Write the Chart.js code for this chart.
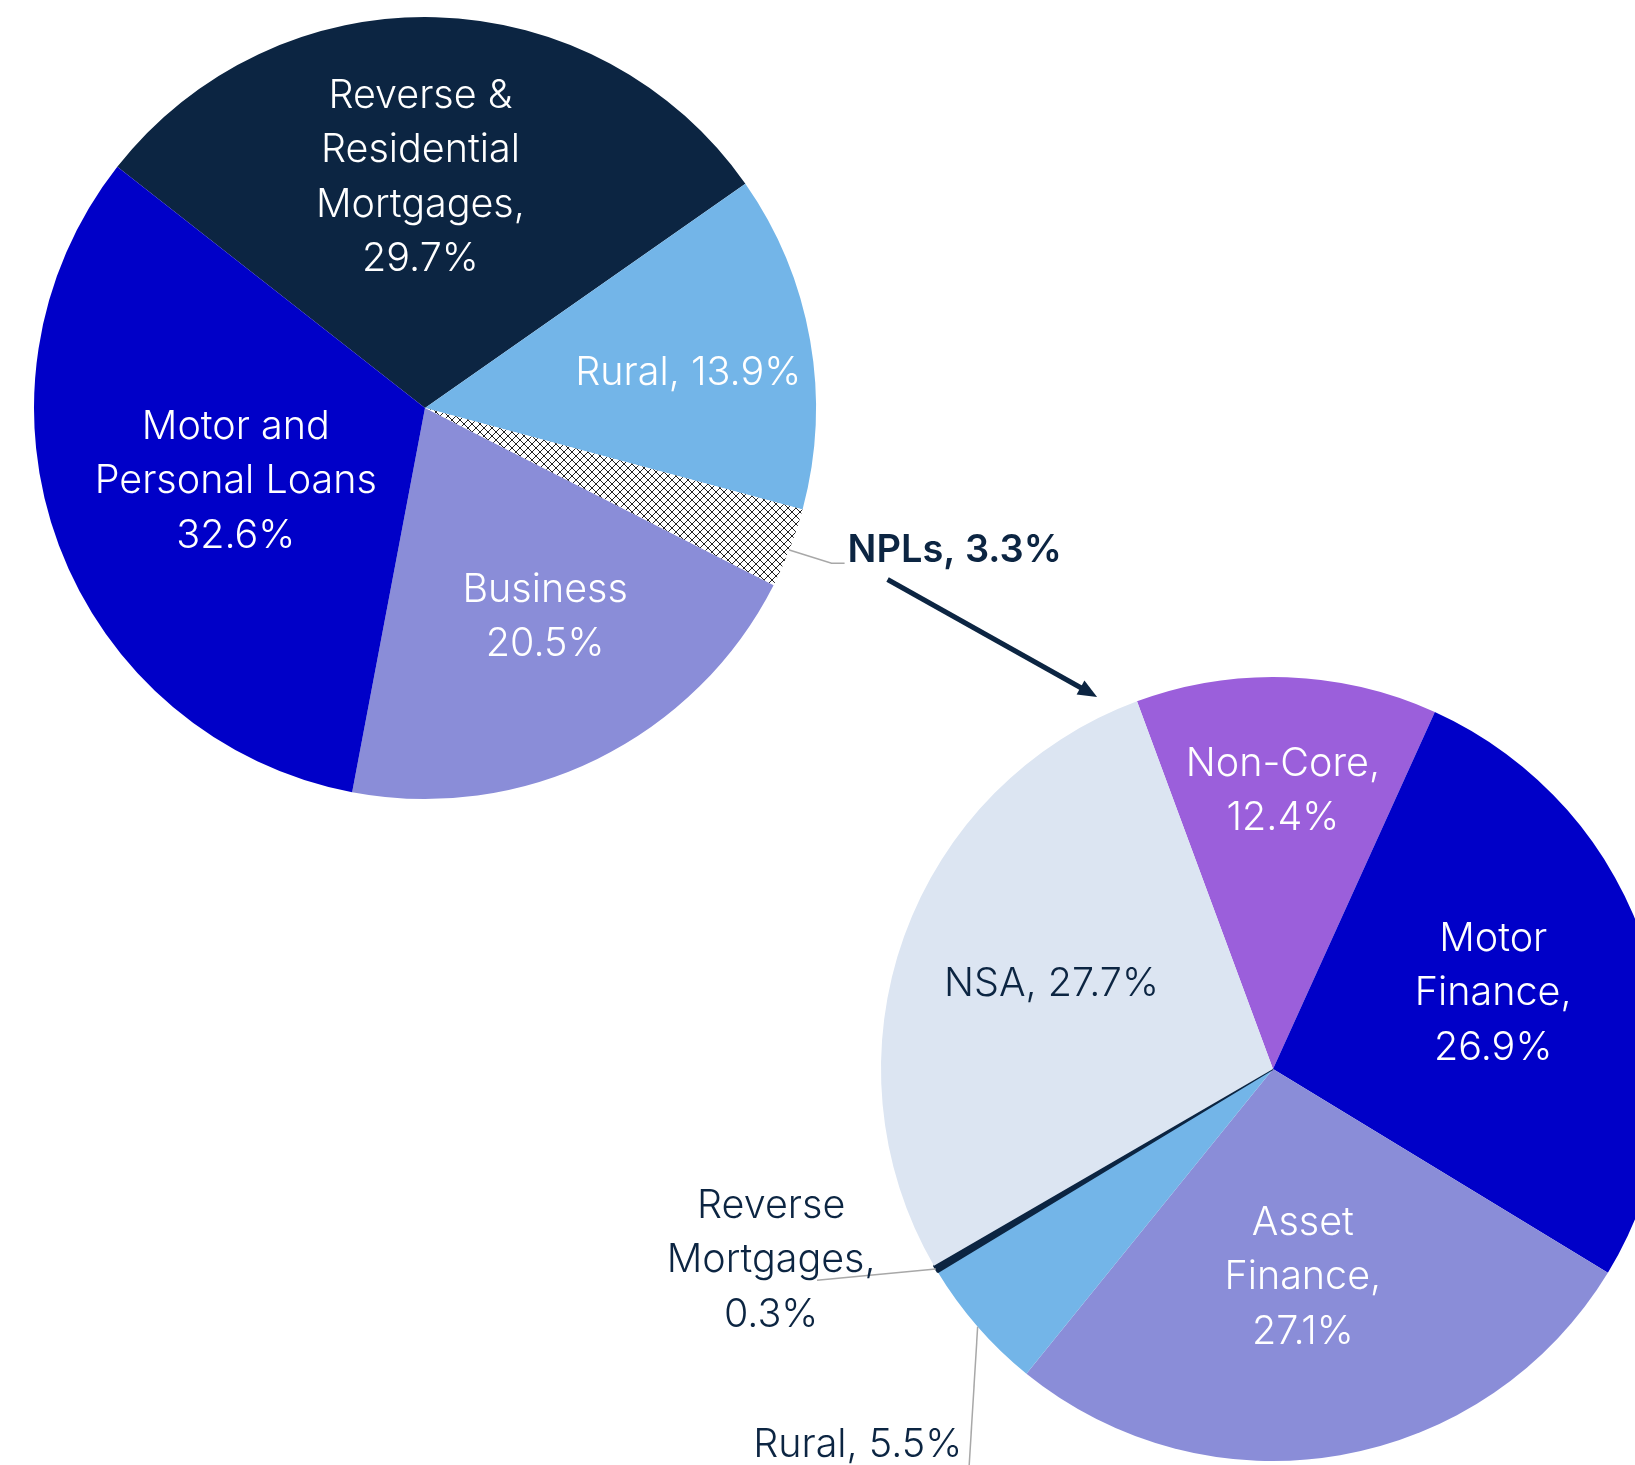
<!DOCTYPE html>
<html>
<head>
<meta charset="utf-8">
<script src="https://cdn.jsdelivr.net/npm/chart.js@4.4.1/dist/chart.umd.min.js"></script>
<style>
  html, body { margin: 0; padding: 0; background: #fff; overflow: hidden; width: 1635px; height: 1465px; }
  canvas { position: absolute; left: 0; top: 0; }
</style>
</head>
<body>
<canvas id="topPie" width="1635" height="1465"></canvas>
<canvas id="bottomPie" width="1700" height="1465"></canvas>
<script>
// data
const topCategories = ["Reverse & Residential Mortgages", "Rural", "NPLs", "Business", "Motor and Personal Loans"];
const topValues = [29.7, 13.9, 3.3, 20.5, 32.6];
const topLabelLines = [
  ["Reverse &", "Residential", "Mortgages,", "{v}%"],
  ["Rural, {v}%"],
  ["NPLs, {v}%"],
  ["Business", "{v}%"],
  ["Motor and", "Personal Loans", "{v}%"],
];

const bottomCategories = ["Non-Core", "Motor Finance", "Asset Finance", "Rural", "Reverse Mortgages", "NSA"];
const bottomValues = [12.4, 26.9, 27.1, 5.5, 0.3, 27.7];
const bottomLabelLines = [
  ["Non-Core,", "{v}%"],
  ["Motor", "Finance,", "{v}%"],
  ["Asset", "Finance,", "{v}%"],
  ["Rural, {v}%"],
  ["Reverse", "Mortgages,", "{v}%"],
  ["NSA, {v}%"],
];

const NAVY = "#0c2542";
const BLUE = "#0000c8";
const SKY = "#73b5e8";
const LAVENDER = "#8a8dd8";
const PALE = "#dce5f2";
const PURPLE = "#9b5fdb";
const LEADER = "#a8a8a8";
const FONT = "Inter";
const LINE_H = 54.5;

Chart.defaults.font.family = FONT;

// cross hatch for the NPL slice
function hatch() {
  const n = 8;
  const c = document.createElement("canvas");
  c.width = n; c.height = n;
  const g = c.getContext("2d");
  g.fillStyle = "#fff";
  g.fillRect(0, 0, n, n);
  g.strokeStyle = "#222";
  g.lineWidth = 1;
  g.beginPath();
  g.moveTo(-1, -1); g.lineTo(n + 1, n + 1);
  g.moveTo(-1, n + 1); g.lineTo(n + 1, -1);
  g.stroke();
  return g.createPattern(c, "repeat");
}

// label placement: r = fraction of radius, da = degrees off the slice middle
const topPlace = [
  { r: 0.589, da: -2.7, color: "#fff" },
  { r: 0.679, da: 2.5, color: "#fff" },
  { r: 1.141, da: -2.3, color: NAVY, align: "left", bold: true, leader: [[1.0, 0.3], [1.113, -0.1]], tail: true },
  { r: 0.617, da: -3.7, color: "#fff" },
  { r: 0.519, da: -0.6, color: "#fff" },
];
const bottomPlace = [
  { r: 0.709, da: 0, color: "#fff" },
  { r: 0.594, da: -1.8, color: "#fff" },
  { r: 0.537, da: 1.7, color: "#fff" },
  { r: 1.244, da: -9.3, color: NAVY, align: "right", leader: [[1.0, 0], [1.28, -11.6]] },
  { r: 1.37, da: 9.8, color: NAVY, leader: [[1.0, 0], [1.282, 5.8]] },
  { r: 0.605, da: 1.1, color: NAVY },
];

function polar(arc, frac, ang) {
  return { x: arc.x + arc.outerRadius * frac * Math.cos(ang), y: arc.y + arc.outerRadius * frac * Math.sin(ang) };
}
const rad = d => d * Math.PI / 180;

const pieLabels = {
  id: "pieLabels",
  afterDatasetsDraw(chart, args, opts) {
    const ctx = chart.ctx;
    const arcs = chart.getDatasetMeta(0).data;
    const values = chart.data.datasets[0].data;
    ctx.save();
    ctx.textBaseline = "middle";
    opts.place.forEach((p, i) => {
      const a = arcs[i];
      const mid = (a.startAngle + a.endAngle) / 2;
      const pos = polar(a, p.r, mid + rad(p.da));
      if (p.leader) {
        ctx.strokeStyle = LEADER;
        ctx.lineWidth = 1.5;
        ctx.beginPath();
        p.leader.forEach((l, k) => {
          const q = polar(a, l[0], mid + rad(l[1]));
          if (k === 0) ctx.moveTo(q.x, q.y); else ctx.lineTo(q.x, q.y);
          if (p.tail && k === p.leader.length - 1) ctx.lineTo(pos.x - 3, q.y);
        });
        ctx.stroke();
      }
      const lines = opts.lines[i].map(s => s.replace("{v}", values[i].toFixed(1)));
      ctx.fillStyle = p.color;
      ctx.textAlign = p.align || "center";
      ctx.font = (p.bold ? "600 38px " : "350 39.5px ") + FONT;
      const y0 = pos.y - (lines.length - 1) * LINE_H / 2;
      lines.forEach((t, k) => ctx.fillText(t, pos.x, y0 + k * LINE_H));
      if (opts.onLabel) opts.onLabel(i, pos);
    });
    ctx.restore();
  }
};

let nplLabelPos = null;

const topChart = new Chart(document.getElementById("topPie"), {
  type: "pie",
  data: {
    labels: topCategories,
    datasets: [{
      data: topValues,
      backgroundColor: [NAVY, SKY, hatch(), LAVENDER, BLUE],
      borderWidth: 0,
      hoverOffset: 0,
    }],
  },
  options: {
    responsive: false,
    animation: false,
    devicePixelRatio: 1,
    rotation: -51.9,
    layout: { padding: { left: 34, top: 17, right: 819, bottom: 666 } },
    plugins: {
      legend: { display: false },
      tooltip: { enabled: false },
      pieLabels: {
        place: topPlace,
        lines: topLabelLines,
        onLabel: (i, pos) => { if (i === 2) nplLabelPos = pos; },
      },
    },
  },
  plugins: [pieLabels],
});

// arrow from the NPL label down to the second pie
const nplArrow = {
  id: "nplArrow",
  afterDraw(chart) {
    if (!nplLabelPos) return;
    const a = chart.getDatasetMeta(0).data[0];
    const from = { x: nplLabelPos.x + 40, y: nplLabelPos.y + 28.5 };
    const to = polar(a, 1.05, a.startAngle - rad(5));
    const ang = Math.atan2(to.y - from.y, to.x - from.x);
    const ctx = chart.ctx;
    ctx.save();
    ctx.strokeStyle = NAVY;
    ctx.fillStyle = NAVY;
    ctx.lineWidth = 5;
    ctx.beginPath();
    ctx.moveTo(from.x, from.y);
    ctx.lineTo(to.x - 14 * Math.cos(ang), to.y - 14 * Math.sin(ang));
    ctx.stroke();
    ctx.beginPath();
    ctx.moveTo(to.x, to.y);
    ctx.lineTo(to.x - 19 * Math.cos(ang) + 8 * Math.sin(ang), to.y - 19 * Math.sin(ang) - 8 * Math.cos(ang));
    ctx.lineTo(to.x - 19 * Math.cos(ang) - 8 * Math.sin(ang), to.y - 19 * Math.sin(ang) + 8 * Math.cos(ang));
    ctx.closePath();
    ctx.fill();
    ctx.restore();
  }
};

new Chart(document.getElementById("bottomPie"), {
  type: "pie",
  data: {
    labels: bottomCategories,
    datasets: [{
      data: bottomValues,
      backgroundColor: [PURPLE, BLUE, LAVENDER, SKY, NAVY, PALE],
      borderColor: NAVY,
      borderWidth: [0, 0, 0, 0, 2, 0],
      hoverOffset: 0,
    }],
  },
  options: {
    responsive: false,
    animation: false,
    devicePixelRatio: 1,
    rotation: -20.3,
    layout: { padding: { left: 880, top: 676, right: 34, bottom: 3 } },
    plugins: {
      legend: { display: false },
      tooltip: { enabled: false },
      pieLabels: { place: bottomPlace, lines: bottomLabelLines },
    },
  },
  plugins: [pieLabels, nplArrow],
});
</script>
</body>
</html>
